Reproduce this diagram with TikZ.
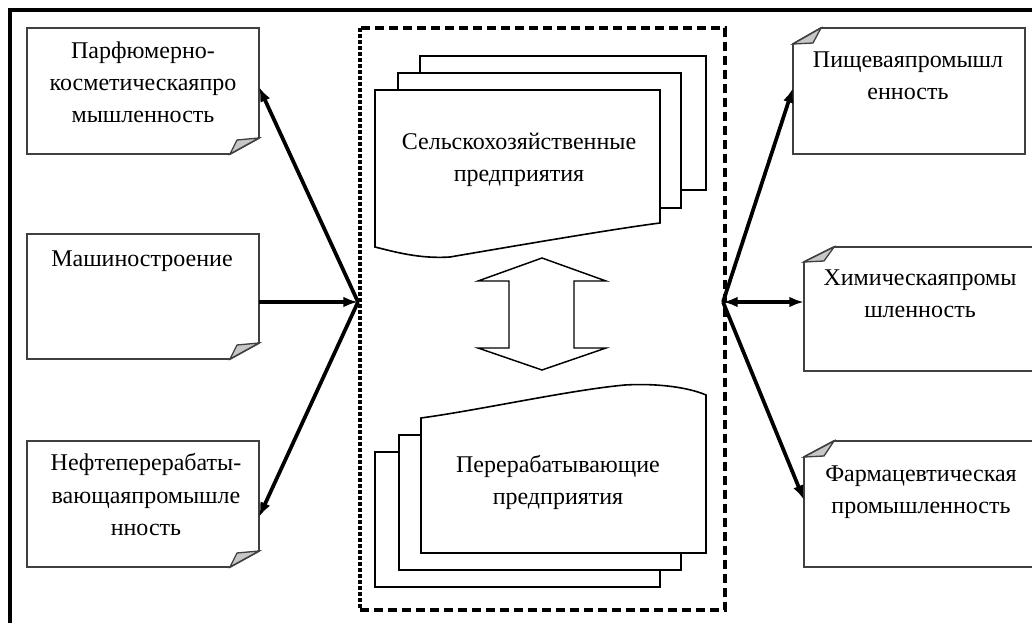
\documentclass[tikz,border=0pt]{standalone}
\usepackage{fontspec}
\setmainfont{Liberation Serif}
\usetikzlibrary{arrows.meta}
\begin{document}
\begin{tikzpicture}[x=0.75pt,y=-0.75pt,
  box/.style={draw=black!75, line width=1.4pt, fill=white, line join=miter},
  fold/.style={draw=black!75, line width=1pt, fill=black!22},
  doc/.style={draw=black, line width=1.2pt, fill=white},
  lbl/.style={align=center, font=\fontsize{18}{24}\selectfont, inner sep=0pt, anchor=base},
  conn/.style={line width=2.8pt, -{Latex[length=11pt,width=8pt]}},
  conn2/.style={line width=2.8pt, {Latex[length=11pt,width=8pt]}-{Latex[length=11pt,width=8pt]}},
  frame/.style={line width=2.4pt, draw=black},
  grp/.style={line width=2.6pt, draw=black, dash pattern=on 7pt off 3.5pt},
  grpl/.style={line width=2.6pt, draw=black, dash pattern=on 3pt off 1.5pt},
  hollow/.style={draw=black, line width=1.1pt, fill=white}
]
\useasboundingbox (0,0) rectangle (1032,623);
\fill[white] (0,0) rectangle (1032,623);
% outer frame (cropped at right and bottom)
\draw[frame] (10,650) -- (10,10) -- (1060,10);

% dashed group
\draw[grp] (360,610) -- (725,610) -- (725,28) -- (360,28);
\draw[grpl] (360,28) -- (360,610);

% left boxes (fold bottom-right)
\draw[box] (27,28) -- (259,28) -- (259,138) -- (230,154) -- (27,154) -- cycle;
\draw[fold] (230,154) -- (237,140) -- (259,138) -- cycle;
\draw[box] (27,234) -- (259,234) -- (259,343) -- (230,359) -- (27,359) -- cycle;
\draw[fold] (230,359) -- (237,345) -- (259,343) -- cycle;
\draw[box] (27,441) -- (259,441) -- (259,551) -- (230,567) -- (27,567) -- cycle;
\draw[fold] (230,567) -- (237,553) -- (259,551) -- cycle;

% right boxes (fold top-left)
\draw[box] (793,44) -- (821,28) -- (1025,28) -- (1025,154) -- (793,154) -- cycle;
\draw[fold] (793,44) -- (813,43) -- (821,28) -- cycle;
\draw[box] (804,262) -- (834,247) -- (1045,247) -- (1045,371) -- (804,371) -- cycle;
\draw[fold] (804,262) -- (824,261) -- (834,247) -- cycle;
\draw[box] (804,457) -- (834,441) -- (1045,441) -- (1045,567) -- (804,567) -- cycle;
\draw[fold] (804,457) -- (824,456) -- (834,441) -- cycle;

% box labels (anchor = baseline of the last line)
\node[lbl] (t1) at (143,123) {Парфюмерно-\\косметическаяпро\\мышленность};
\node[lbl] (t2) at (142,267) {Машиностроение};
\node[lbl] (t3) at (146,535) {Нефтеперерабаты-\\вающаяпромышле\\нность};
\node[lbl] (t4) at (908,100) {Пищеваяпромышл\\енность};
\node[lbl] (t5) at (920,318) {Химическаяпромы\\шленность};
\node[lbl] (t6) at (921,513) {Фармацевтическая\\промышленность};

% top document stack
\draw[doc] (420,56) rectangle (706,190);
\draw[doc] (398,73) rectangle (681,208);
\draw[doc] (375,90) -- (660,90) -- (660,223)
  .. controls (620,228) and (520,245) .. (450,257)
  .. controls (420,259) and (395,252) .. (375,247) -- cycle;
\node[lbl] (d1) at (519,182) {Сельскохозяйственные\\предприятия};

% bottom document stack
\draw[doc] (375,452) rectangle (660,587);
\draw[doc] (399,435) rectangle (681,570);
\draw[doc] (421,553) -- (706,553) -- (706,395)
  .. controls (690,388) and (660,383) .. (625,385)
  .. controls (570,390) and (480,410) .. (421,418) -- cycle;
\node[lbl] (d2) at (558,504) {Перерабатывающие\\предприятия};

% hollow double arrow
\draw[hollow] (542,258) -- (606,281) -- (574,281) -- (574,348) -- (606,348)
  -- (542,370) -- (478,348) -- (509,348) -- (509,281) -- (478,281) -- cycle;

% connectors
\coordinate (hL) at (358,302);
\coordinate (hR) at (723,302);
\coordinate (b1e) at (259,87);
\coordinate (b2e) at (259,302);
\coordinate (b3e) at (259,517);
\coordinate (b4w) at (793,88);
\coordinate (b5w) at (804,302);
\coordinate (b6w) at (804,500);
\draw[conn] (hL) -- (b1e);
\draw[conn] (b2e) -- (hL);
\draw[conn] (hL) -- (b3e);
\draw[conn] (hR) -- (b4w);
\draw[conn2] (hR) -- (b5w);
\draw[conn] (hR) -- (b6w);
\end{tikzpicture}
\end{document}
